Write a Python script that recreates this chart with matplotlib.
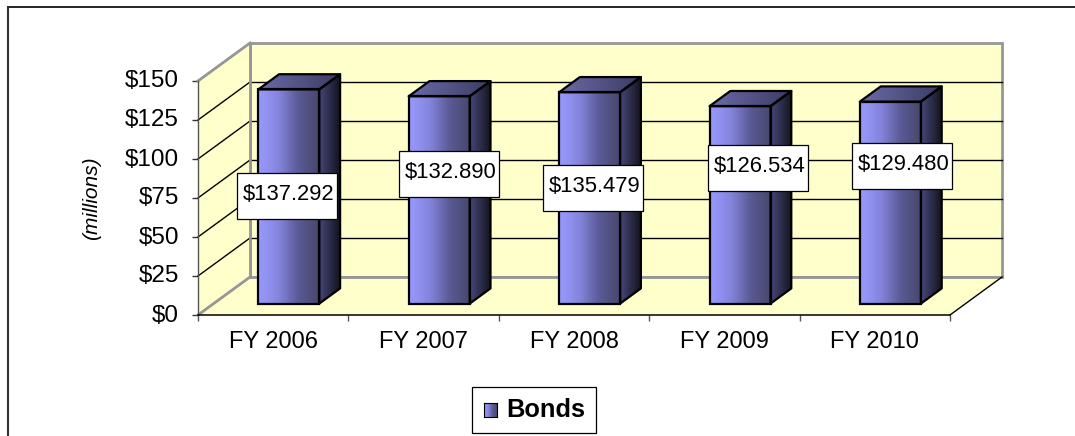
# -*- coding: utf-8 -*-
import numpy as np
import matplotlib
matplotlib.use('Agg')
import matplotlib.pyplot as plt
from matplotlib.colors import LinearSegmentedColormap
from matplotlib.lines import Line2D
from matplotlib.patches import Patch, Polygon, Rectangle
from matplotlib.transforms import ScaledTranslation

plt.rcParams['font.family'] = ['Liberation Sans', 'DejaVu Sans']

# Data
categories = ['FY 2006', 'FY 2007', 'FY 2008', 'FY 2009', 'FY 2010']
bonds = [137.292, 132.890, 135.479, 126.534, 129.480]
value_labels = ['$137.292', '$132.890', '$135.479', '$126.534', '$129.480']
y_ticks = [0, 25, 50, 75, 100, 125, 150]
y_tick_labels = ['$0', '$25', '$50', '$75', '$100', '$125', '$150']

# Label box centres, in pixels
box_x = [287, 449, 593, 758, 902]
box_y = [196, 174.5, 188, 168, 166]

W, H = 1075, 436
WALL = '#ffffcc'
EDGE = '#969696'

# 3d look: depth of the box, in data units
DX = 52 / 150.4
DY = 38 / 1.56
BAR_W = 61 / 150.4
T0, T1 = 0.3, 0.7

front_cmap = LinearSegmentedColormap.from_list('front', ['#9999ff', '#8585dd', '#5a5a96', '#48486e'])
top_cmap = LinearSegmentedColormap.from_list('top', ['#6a6aa8', '#3c3c64'])
side_cmap = LinearSegmentedColormap.from_list('side', ['#46467a', '#14141e'])
ramp = np.linspace(0, 1, 64).reshape(1, -1)


def px_rect(x0, y0, x1, y1):
	# figure fractions from pixels measured from the top left
	return [x0 / W, (H - y1) / H, (x1 - x0) / W, (y1 - y0) / H]


def depth(x, y, t):
	return (x + t * DX, y + t * DY)


def gradient(ax, clip, extent, cmap, zorder):
	"""
	Gradient image clipped to a patch, allowed to leave the axes box.
	"""
	im = ax.imshow(ramp, cmap=cmap, aspect='auto', extent=extent, zorder=zorder, interpolation='bilinear')
	im.set_clip_path(clip)
	im.set_clip_box(ax.figure.bbox)


def face(ax, points, cmap, zorder):
	"""
	Polygon filled with a horizontal gradient.
	"""
	poly = Polygon(points, closed=True, facecolor='none', edgecolor='black', lw=1.6,
		joinstyle='round', zorder=zorder + 0.1, clip_on=False)
	ax.add_patch(poly)
	xs = [p[0] for p in points]
	ys = [p[1] for p in points]
	gradient(ax, poly, (min(xs), max(xs), min(ys), max(ys)), cmap, zorder)


fig = plt.figure(figsize=(W / 100, H / 100), dpi=100, facecolor='white')
ax = fig.add_axes(px_rect(198, 81, 950, 315))
ax.patch.set_visible(False)

x0, x1 = -0.5, 4.5
y0, y1 = 0, 150

# Walls and floor
ax.add_patch(Polygon([depth(x0, y0, 1), depth(x1, y0, 1), depth(x1, y1, 1), depth(x0, y1, 1)],
	facecolor=WALL, edgecolor=EDGE, lw=2, zorder=1, clip_on=False))
ax.add_patch(Polygon([(x0, y0), depth(x0, y0, 1), depth(x0, y1, 1), (x0, y1)],
	facecolor=WALL, edgecolor='none', zorder=1, clip_on=False))
ax.add_patch(Polygon([(x0, y0), (x1, y0), depth(x1, y0, 1), depth(x0, y0, 1)],
	facecolor=WALL, edgecolor='none', zorder=1, clip_on=False))

# Grid
for v in y_ticks[1:]:
	ax.plot([x0, depth(x0, v, 1)[0]], [v, depth(x0, v, 1)[1]], color='black', lw=1, zorder=2, clip_on=False)
	if v < y1:
		ax.plot([depth(x0, v, 1)[0], depth(x1, v, 1)[0]], [depth(x0, v, 1)[1]] * 2, color='black', lw=1, zorder=2, clip_on=False)

# Box edges
for a, b, col in [((x0, y0), depth(x0, y0, 1), EDGE), ((x0, y1), depth(x0, y1, 1), EDGE),
		(depth(x0, y0, 1), depth(x1, y0, 1), EDGE), (depth(x0, y0, 1), depth(x0, y1, 1), EDGE),
		((x1, y0), depth(x1, y0, 1), 'black')]:
	ax.plot([a[0], b[0]], [a[1], b[1]], color=col, lw=2 if col == EDGE else 1, zorder=2.5, clip_on=False)

# Bars: front faces go through ax.bar, the rest hangs off them
pos = np.arange(len(categories))
front_x = pos + T0 * DX
bars = ax.bar(front_x, bonds, width=BAR_W, bottom=T0 * DY, facecolor='none', edgecolor='black',
	lw=1.6, zorder=3.1, clip_on=False, label='Bonds')

for bar in bars:
	left = bar.get_x()
	right = left + bar.get_width()
	bot = bar.get_y()
	top = bot + bar.get_height()
	d = T1 - T0
	gradient(ax, bar, (left, right, bot, top), front_cmap, 3)
	face(ax, [(right, bot), depth(right, bot, d), depth(right, top, d), (right, top)], side_cmap, 3)
	face(ax, [(left, top), (right, top), depth(right, top, d), depth(left, top, d)], top_cmap, 3)

# Axes
ax.set_xlim(x0, x1)
ax.set_ylim(y0, y1)
ax.set_yticks(y_ticks)
ax.set_yticklabels(y_tick_labels)
ax.set_xticks(np.arange(x0, x1 + 0.5, 1))
ax.set_xticklabels([])
ax.set_xticks(pos, minor=True)
ax.set_xticklabels(categories, minor=True)
ax.tick_params(axis='y', which='major', length=4.3, width=1, pad=9.5, labelsize=17.5, color='#333333')
ax.tick_params(axis='x', which='major', length=4.3, width=1, color='#555555')
ax.tick_params(axis='x', which='minor', length=0, pad=11.5, labelsize=17)
# y labels sit a little above their ticks
up = ScaledTranslation(0, 2 / 100, fig.dpi_scale_trans)
for lab in ax.get_yticklabels():
	lab.set_transform(lab.get_transform() + up)
ax.spines['top'].set_visible(False)
ax.spines['right'].set_visible(False)
ax.spines['left'].set_color('#555555')
ax.spines['left'].set_linewidth(1)
ax.spines['bottom'].set_color('black')
ax.spines['bottom'].set_linewidth(1.1)
for s in ax.spines.values():
	s.set_zorder(2.6)

fig.text(92 / W, (H - 198) / H, '(millions)', rotation=90, style='italic', fontsize=15,
	ha='center', va='center')

# Value boxes
for cx, cy, lab in zip(box_x, box_y, value_labels):
	fig.add_artist(Rectangle(((cx - 50) / W, (H - cy - 23) / H), 100 / W, 46 / H, transform=fig.transFigure,
		facecolor='white', edgecolor='black', lw=0.9, zorder=5))
	fig.text((cx + 2) / W, (H - cy + 2) / H, lab, fontsize=15.8, ha='center', va='center', zorder=6)

# Outer frame, only top and left show
fig.add_artist(Line2D([8 / W, 1], [(H - 7) / H] * 2, color='black', lw=1.2))
fig.add_artist(Line2D([8 / W, 8 / W], [(H - 7) / H, 0], color='#333333', lw=1.5))

# Legend, its handle is only a placeholder under the gradient swatch
handle = Patch(facecolor='white', edgecolor='white', label='Bonds')
leg = fig.legend(handles=[handle], loc='center', bbox_to_anchor=(534 / W, (H - 410) / H), fancybox=False,
	framealpha=1, edgecolor='black', prop={'weight': 'bold', 'size': 18.3}, handlelength=0.5,
	handleheight=0.5, handletextpad=0.42, borderpad=0.42, borderaxespad=0)
leg.get_frame().set_linewidth(0.9)
sw = fig.add_axes(px_rect(484, 403, 497, 417), zorder=10)
sw.imshow(ramp, cmap=front_cmap, aspect='auto')
sw.set_xticks([])
sw.set_yticks([])

fig.savefig('out.png', dpi=100)
